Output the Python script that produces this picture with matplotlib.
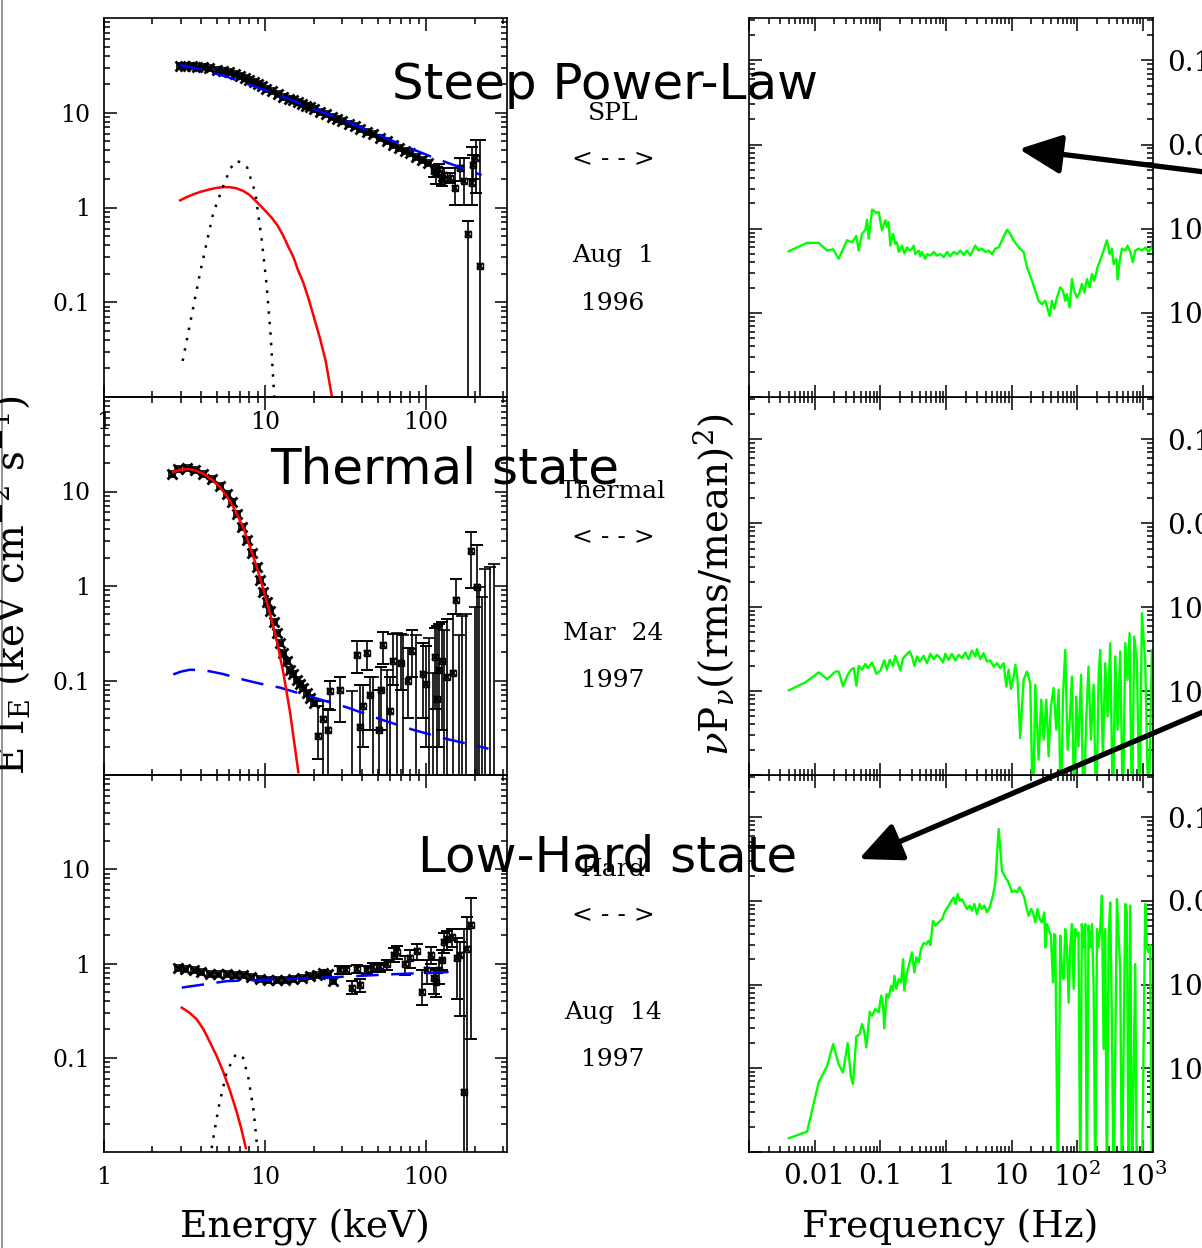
import numpy as np
import matplotlib
import matplotlib.pyplot as plt
from matplotlib.patches import FancyArrowPatch, ArrowStyle
from matplotlib.ticker import LogLocator, NullFormatter, FixedLocator, FixedFormatter

plt.rcParams['font.family'] = 'DejaVu Serif'
plt.rcParams['mathtext.fontset'] = 'dejavuserif'

# ---------------- energy spectra (keV, keV cm^-2 s^-1) ----------------
# Steep power-law state, Aug 1 1996
spl_E = [2.97, 3.2, 3.5, 3.8, 4.1, 4.5, 5.0, 5.5, 6.0, 6.5, 7.0, 7.5, 8.0, 8.5, 9.0, 9.6,
         10.2, 11, 12, 13, 14, 15, 16, 17, 18, 19, 20, 22, 24, 26, 28, 30, 33, 36, 39,
         43, 47, 52, 57, 62, 68, 74, 80, 87, 95, 103]
spl_F = [31, 31, 31, 30.7, 30.2, 29.5, 28.5, 27.8, 26.8, 25.5, 24.5, 23.5, 22.0, 21, 20, 19,
         18, 16.8, 15.8, 14.8, 14, 13.5, 13, 12.4, 11.9, 11.4, 11, 10.3, 9.6, 9.0, 8.5, 8.1,
         7.6, 7.2, 6.8, 6.3, 5.9, 5.4, 5.0, 4.6, 4.2, 3.95, 3.75, 3.4, 3.2, 2.95]
spl_E2 = [112, 116, 120, 125, 130, 140, 151, 163, 172, 182, 192, 196, 205, 216]
spl_F2 = [2.4, 2.3, 2.55, 1.9, 2.2, 2.05, 1.6, 2.6, 1.9, 0.52, 1.8, 2.8, 3.3, 0.24]
spl_lo2 = [2.1, 1.75, 2.2, 1.7, 1.9, 1.8, 1.07, 1.9, 1.07, 0.001, 1.07, 2.0, 1.43, 0.001]
spl_hi2 = [2.8, 2.7, 2.9, 2.1, 2.6, 2.3, 2.6, 3.3, 3.3, 0.72, 4.4, 3.6, 5.2, 5.2]
spl_pl_E = [2.97, 4, 5.8, 8, 12, 20, 30, 50, 80, 120, 221]
spl_pl_F = [32, 28.5, 24, 19.8, 15.5, 11, 8.5, 5.9, 4.2, 3.2, 2.2]
spl_bb_E = [2.97, 3.3, 3.6, 4.0, 4.5, 5.0, 5.5, 6.0, 6.6, 7.3, 8.0, 8.9, 10, 11, 12, 13, 14,
            15, 16, 17.3, 18.6, 20, 21.9, 23.8, 25.9]
spl_bb_F = [1.19, 1.30, 1.38, 1.47, 1.55, 1.61, 1.64, 1.64, 1.60, 1.50, 1.36, 1.14, 0.93,
            0.78, 0.64, 0.50, 0.38, 0.30, 0.22, 0.16, 0.11, 0.072, 0.042, 0.024, 0.0105]
spl_ln_E = [3.08, 3.95, 4.77, 5.5, 6.1, 6.7, 7.7, 8.7, 9.53, 10.2, 10.8, 11.4]
spl_ln_F = [0.024, 0.205, 0.88, 1.68, 2.6, 3.12, 2.72, 1.43, 0.46, 0.16, 0.048, 0.0103]

# Thermal state, Mar 24 1997
th_E = [2.63, 2.9, 3.26, 3.67, 4.14, 4.66, 5.25, 5.78, 6.2, 6.67, 7.16, 7.7, 8.25, 8.87,
        9.3, 9.77, 10.25, 10.7, 11.3, 11.8, 12.4, 13.0, 13.6, 14.3, 15.0, 15.7, 16.5,
        17.3, 18.1, 19.0, 20.0]
th_F = [15.4, 17.3, 17.8, 16.8, 15.4, 13.5, 11.4, 9.3, 7.7, 5.8, 4.21, 3.05, 2.21, 1.60,
        1.16, 0.87, 0.68, 0.54, 0.42, 0.32, 0.25, 0.195, 0.16, 0.13, 0.116, 0.102, 0.091,
        0.084, 0.074, 0.066, 0.058]
th_E2 = [21.4, 23, 24.7, 25.3, 29.2, 37.1, 38.9, 40.7, 42.7, 44.9, 50.7, 52.5, 54.3, 59.6,
         62.7, 69.5, 77.6, 81.5, 95.2, 99.3, 114, 117, 121, 126, 135, 146, 153, 190, 206]
th_F2 = [0.026, 0.039, 0.030, 0.077, 0.079, 0.188, 0.032, 0.054, 0.195, 0.071, 0.030, 0.08,
         0.24, 0.047, 0.16, 0.155, 0.10, 0.203, 0.116, 0.091, 0.177, 0.063, 0.13, 0.16,
         0.109, 0.12, 0.71, 2.35, 0.98]
th_lo2 = [0.0146, 0.001, 0.001, 0.049, 0.036, 0.12, 0.001, 0.02, 0.13, 0.03, 0.001, 0.03,
          0.15, 0.001, 0.09, 0.08, 0.04, 0.11, 0.04, 0.02, 0.05, 0.001, 0.02, 0.03, 0.001,
          0.001, 0.5, 0.95, 0.001]
th_hi2 = [0.054, 0.06, 0.05, 0.098, 0.11, 0.26, 0.09, 0.09, 0.26, 0.11, 0.08, 0.14, 0.33,
          0.11, 0.31, 0.31, 0.22, 0.34, 0.25, 0.23, 0.36, 0.38, 0.40, 0.42, 0.45, 0.50,
          1.2, 3.7, 2.7]
th_ul_E = [34.6, 47, 57, 66, 72, 86, 104, 110, 130, 160, 168, 177, 200, 214, 222, 231, 249, 263]
th_ul_F = [0.077, 0.11, 0.13, 0.32, 0.30, 0.30, 0.28, 0.12, 0.34, 0.30, 0.48, 0.5, 0.6,
           0.98, 0.77, 1.5, 1.6, 1.73]
th_pl_E = [2.69, 3.0, 3.42, 4.0, 4.55, 5.5, 6.5, 7.7, 9.5, 12.4, 20, 32.2, 51.8, 83.5, 135, 244]
th_pl_F = [0.116, 0.124, 0.13, 0.129, 0.125, 0.117, 0.108, 0.10, 0.092, 0.084, 0.066, 0.052,
           0.039, 0.030, 0.024, 0.019]
th_bb_E = [2.69, 2.95, 3.34, 3.7, 4.14, 4.7, 5.25, 5.8, 6.36, 7.3, 8.07, 8.87, 9.77, 10.7,
           11.8, 13.0, 14.3, 15.3, 16.1]
th_bb_F = [16.0, 17.0, 17.3, 16.7, 15.4, 13.3, 11.1, 8.9, 6.84, 4.21, 2.59, 1.60, 0.91, 0.52,
           0.27, 0.12, 0.046, 0.020, 0.0107]

# Low-hard state, Aug 14 1997
hd_E = [2.9, 3.2, 3.6, 4.0, 4.55, 5.1, 5.78, 6.5, 7.3, 8.2, 9.3, 10.5, 11.8, 13.3, 15, 17,
        19, 21, 23, 24.5, 26.6]
hd_F = [0.90, 0.88, 0.85, 0.81, 0.77, 0.78, 0.78, 0.76, 0.75, 0.72, 0.69, 0.67, 0.67, 0.67,
        0.69, 0.71, 0.73, 0.76, 0.785, 0.77, 0.66]
hd_E2 = [29.2, 32, 34.9, 37.3, 38.9, 42.7, 47, 51.8, 57, 62.9, 65.6, 74, 79.6, 87.7, 95, 101,
         107, 112, 116, 121, 125, 129, 135, 144, 155, 162, 172, 180, 189]
hd_F2 = [0.85, 0.85, 0.55, 0.88, 0.59, 0.86, 0.92, 0.92, 0.98, 1.24, 1.32, 0.98, 1.15, 1.35,
         0.50, 0.86, 1.24, 0.71, 0.64, 0.86, 1.1, 1.68, 1.82, 1.91, 1.15, 1.24, 0.043, 1.43, 2.57]
hd_lo2 = [0.78, 0.78, 0.47, 0.8, 0.50, 0.78, 0.82, 0.82, 0.86, 1.05, 1.12, 0.75, 0.9, 1.1,
          0.36, 0.6, 1.0, 0.47, 0.44, 0.6, 0.85, 1.3, 1.4, 1.5, 0.42, 0.28, 0.001, 0.001, 0.16]
hd_hi2 = [0.93, 0.93, 0.65, 0.96, 0.68, 0.95, 1.02, 1.02, 1.1, 1.45, 1.55, 1.2, 1.4, 1.6,
          0.86, 1.1, 1.5, 0.9, 0.85, 1.1, 1.4, 2.1, 2.2, 2.3, 1.85, 1.7, 2.3, 3.15, 5.0]
hd_pl_E = [3.04, 5.78, 11.8, 24, 62.9, 162]
hd_pl_F = [0.555, 0.65, 0.68, 0.71, 0.77, 0.82]
hd_bb_E = [3.04, 3.4, 3.76, 4.15, 4.55, 5.0, 5.5, 6.05, 6.65, 7.1, 7.6]
hd_bb_F = [0.34, 0.30, 0.257, 0.20, 0.146, 0.105, 0.071, 0.045, 0.027, 0.018, 0.011]
hd_ln_E = [4.66, 5.13, 5.78, 6.6, 7.3, 7.9, 8.5, 8.9]
hd_ln_F = [0.011, 0.029, 0.071, 0.11, 0.10, 0.06, 0.027, 0.012]

# ---------------- power density spectra (Hz, nu P_nu) ----------------
spl_f = [0.00403, 0.00766, 0.0115, 0.0155, 0.0191, 0.0232, 0.0311, 0.0371, 0.0431, 0.0469,
         0.0526, 0.0592, 0.0628, 0.0665, 0.0748, 0.0871, 0.0944, 0.106, 0.119, 0.126, 0.134,
         0.142, 0.156, 0.169, 0.179, 0.191, 0.214, 0.232, 0.255, 0.280, 0.303, 0.322, 0.341,
         0.384, 0.406, 0.431, 0.484, 0.514, 0.578, 0.649, 0.729, 0.820, 0.921, 1.04, 1.16,
         1.31, 1.47, 1.65, 1.86, 2.09, 2.35, 2.64, 2.79, 3.14, 3.53, 3.97, 4.46, 5.01, 5.63,
         6.34, 7.12, 8.48, 9.53, 10.7, 12.8, 15.2, 17.1, 20.4, 22.9, 25.7, 28.9, 32.5, 35.3,
         37.8, 41.0, 44.6, 48.9, 55.0, 60.4, 65.5, 69.5, 76.2, 82.8, 89.8, 98.6, 108, 117,
         128, 140, 154, 167, 181, 203, 223, 251, 282, 310, 336, 357, 392, 410, 440, 477, 537,
         582, 640, 702, 762, 855, 962, 1081, 1216, 1365, 1449]
spl_p = [5.4e-4, 6.8e-4, 6.8e-4, 5.5e-4, 5.7e-4, 4.4e-4, 7.3e-4, 6.9e-4, 8.2e-4, 5.5e-4,
         8.7e-4, 9.7e-4, 1.28e-3, 7.6e-4, 1.69e-3, 1.54e-3, 1.58e-3, 9.6e-4, 1.26e-3, 1.05e-3,
         1.20e-3, 6.3e-4, 8.7e-4, 6.6e-4, 6.9e-4, 5.3e-4, 6.3e-4, 5.1e-4, 6.0e-4, 5.5e-4,
         5.8e-4, 6.3e-4, 5.0e-4, 5.5e-4, 4.7e-4, 5.3e-4, 4.4e-4, 5.0e-4, 4.8e-4, 5.3e-4,
         4.8e-4, 5.0e-4, 4.6e-4, 5.3e-4, 4.7e-4, 5.3e-4, 5.0e-4, 5.5e-4, 4.9e-4, 5.5e-4,
         4.8e-4, 5.8e-4, 6.3e-4, 5.5e-4, 5.8e-4, 5.3e-4, 5.5e-4, 5.0e-4, 5.8e-4, 6.0e-4,
         7.3e-4, 9.7e-4, 8.7e-4, 7.3e-4, 6.0e-4, 5.3e-4, 3.5e-4, 2.4e-4, 1.83e-4, 1.39e-4,
         1.27e-4, 1.39e-4, 1.11e-4, 9.2e-5, 1.39e-4, 1.11e-4, 1.52e-4, 2.01e-4, 1.83e-4,
         1.39e-4, 1.67e-4, 1.16e-4, 2.52e-4, 1.83e-4, 1.52e-4, 1.75e-4, 2.20e-4, 1.75e-4,
         2.52e-4, 2.01e-4, 2.90e-4, 2.41e-4, 3.48e-4, 4.2e-4, 5.5e-4, 7.3e-4, 5.0e-4, 5.8e-4,
         3.8e-4, 4.4e-4, 2.5e-4, 4.0e-4, 5.8e-4, 5.5e-4, 6.3e-4, 5.3e-4, 4.0e-4, 5.5e-4,
         5.8e-4, 5.5e-4, 6.0e-4, 5.3e-4, 6.0e-4, 8.7e-4]

th_f = [0.00403, 0.00723, 0.0115, 0.0155, 0.0207, 0.0232, 0.0270, 0.0318, 0.0358, 0.0394,
        0.0431, 0.0469, 0.0526, 0.0592, 0.0643, 0.0748, 0.0871, 0.100, 0.115, 0.126, 0.139,
        0.156, 0.169, 0.184, 0.202, 0.222, 0.249, 0.280, 0.303, 0.330, 0.362, 0.397, 0.457,
        0.514, 0.578, 0.649, 0.729, 0.820, 0.900, 0.977, 1.10, 1.23, 1.39, 1.56, 1.75, 1.97,
        2.21, 2.49, 2.79, 2.96, 3.33, 3.74, 4.21, 4.73, 5.32, 5.97, 6.71, 7.55, 8.28, 8.99,
        9.75, 10.7, 11.4, 12.3, 13.5, 15.2, 17.1, 19.2, 21.1, 22.9, 25.7, 28.2, 30.7, 33.7,
        36.5, 39.6, 43.5, 47.8, 51.9, 56.3, 60.4, 65.5, 71.1, 76.2, 82.8, 89.8, 96.4, 104,
        114, 124, 137, 148, 161, 177, 194, 211, 223, 245, 266, 289, 317, 348, 378, 410, 450,
        494, 537, 582, 625, 678, 736, 807, 887, 962, 1081, 1216, 1365, 1449]
th_p = [1.02e-4, 1.27e-4, 1.67e-4, 1.39e-4, 1.71e-4, 1.71e-4, 1.14e-4, 1.56e-4, 1.80e-4,
        1.88e-4, 1.16e-4, 2.00e-4, 1.80e-4, 2.11e-4, 1.88e-4, 2.19e-4, 1.61e-4, 1.76e-4,
        2.32e-4, 1.80e-4, 2.36e-4, 2.00e-4, 2.63e-4, 2.19e-4, 1.76e-4, 2.47e-4, 2.71e-4,
        2.97e-4, 2.59e-4, 2.00e-4, 2.59e-4, 2.25e-4, 2.63e-4, 2.15e-4, 2.78e-4, 2.40e-4,
        2.71e-4, 2.47e-4, 2.19e-4, 2.78e-4, 2.36e-4, 2.78e-4, 2.32e-4, 2.71e-4, 2.47e-4,
        2.88e-4, 2.40e-4, 3.05e-4, 2.59e-4, 3.16e-4, 2.40e-4, 2.83e-4, 2.25e-4, 2.32e-4,
        1.96e-4, 2.15e-4, 1.88e-4, 2.15e-4, 1.14e-4, 1.80e-4, 1.06e-4, 1.49e-4, 2.06e-4,
        1.36e-4, 2.75e-5, 1.36e-4, 1.71e-4, 1.24e-4, 3e-6, 1.19e-4, 1.52e-5, 7.9e-5, 2.63e-5,
        7.9e-5, 1.67e-5, 6.6e-5, 1.09e-4, 3.47e-5, 1.04e-4, 3e-6, 8.6e-5, 3.10e-4, 2.0e-5,
        4.16e-5, 1.49e-4, 3e-6, 8.6e-5, 2.19e-5, 1.56e-4, 3e-6, 4.99e-5, 1.96e-4, 2.63e-5,
        1.19e-4, 3e-6, 1.56e-4, 3.10e-4, 1.67e-5, 2.15e-4, 4.99e-5, 3.73e-4, 3e-6, 2.59e-4,
        3.47e-5, 2.97e-4, 3e-6, 3.73e-4, 1.36e-4, 4.90e-4, 3e-6, 4.47e-4, 2.32e-4, 3e-6,
        8.5e-4, 2.15e-4, 3e-6, 3.10e-4, 5.47e-5]

hd_f = [0.00403, 0.00766, 0.0115, 0.0155, 0.0191, 0.0232, 0.0270, 0.0318, 0.0358, 0.0384,
        0.0431, 0.0485, 0.0526, 0.0571, 0.0612, 0.0689, 0.0748, 0.0839, 0.0944, 0.103, 0.110,
        0.115, 0.124, 0.134, 0.146, 0.156, 0.164, 0.175, 0.191, 0.207, 0.222, 0.232, 0.255,
        0.280, 0.303, 0.330, 0.353, 0.384, 0.416, 0.457, 0.502, 0.544, 0.578, 0.634, 0.689,
        0.773, 0.869, 0.977, 1.10, 1.19, 1.31, 1.39, 1.51, 1.61, 1.75, 1.90, 2.09, 2.29, 2.49,
        2.70, 2.96, 3.25, 3.53, 3.83, 4.21, 4.62, 5.19, 5.63, 5.97, 6.34, 6.71, 7.12, 8.00,
        8.69, 9.53, 10.1, 11.0, 12.0, 13.2, 14.4, 15.6, 16.7, 18.1, 19.7, 21.1, 22.9, 24.8,
        26.7, 28.9, 31.4, 32.5, 34.5, 37.8, 39.6, 42.6, 44.6, 46.1, 50.7, 55.0, 58.3, 61.8,
        65.5, 69.5, 73.6, 78.0, 82.8, 87.7, 92.9, 98.6, 104, 111, 117, 124, 132, 140, 148,
        157, 167, 177, 188, 199, 211, 223, 237, 251, 266, 282, 299, 317, 336, 357, 401, 425,
        450, 477, 537, 569, 603, 640, 678, 762, 807, 962, 1081, 1146, 1216, 1288, 1365, 1449]
hd_p = [1.46e-5, 1.75e-5, 6.8e-5, 1.07e-4, 1.95e-4, 1.12e-4, 8.9e-5, 1.99e-4, 7.8e-5,
        6.5e-5, 2.39e-4, 2.57e-4, 3.38e-4, 2.74e-4, 1.78e-4, 4.75e-4, 4.26e-4, 5.12e-4,
        4.67e-4, 7.4e-4, 5.6e-4, 3.00e-4, 7.7e-4, 7.0e-4, 9.7e-4, 8.5e-4, 1.28e-3, 8.9e-4,
        1.17e-3, 1.06e-3, 2.02e-3, 8.5e-4, 1.40e-3, 1.85e-3, 2.43e-3, 1.40e-3, 2.12e-3,
        1.85e-3, 2.67e-3, 3.14e-3, 3.06e-3, 3.35e-3, 2.97e-3, 5.8e-3, 5.07e-3, 5.55e-3,
        6.08e-3, 7.65e-3, 8.8e-3, 9.8e-3, 0.0110, 9.2e-3, 0.0121, 0.0101, 0.0105, 9.2e-3,
        8.0e-3, 8.8e-3, 7.65e-3, 9.2e-3, 6.98e-3, 9.2e-3, 8.0e-3, 8.8e-3, 7.3e-3, 8.4e-3,
        0.0116, 0.0167, 0.0348, 0.0724, 0.0418, 0.0230, 0.0191, 0.0175, 0.0146, 0.0127,
        0.0133, 0.0127, 0.0146, 0.0127, 0.0110, 8.4e-3, 6.67e-3, 8.0e-3, 7.3e-3, 5.55e-3,
        8.0e-3, 6.08e-3, 5.55e-3, 7.3e-3, 2.79e-3, 5.3e-3, 4.22e-3, 3.85e-3, 1.06e-3,
        4.03e-3, 3.85e-3, 3e-6, 3.85e-3, 1.40e-3, 1.17e-3, 4.62e-3, 2.79e-3, 6.1e-4,
        2.79e-3, 5.3e-3, 8.9e-4, 4.62e-3, 3.85e-3, 4.22e-3, 3e-6, 5.3e-3, 2.79e-3, 5.3e-3,
        3e-6, 5.07e-3, 2.79e-3, 5.3e-3, 9.7e-4, 3e-6, 4.62e-3, 2.79e-3, 4.62e-3, 0.0116,
        1.70e-4, 4.62e-3, 3e-6, 3.85e-3, 9.6e-3, 3.54e-4, 3e-6, 0.0105, 3.85e-3, 1.54e-3,
        3e-6, 9.2e-3, 7.3e-3, 3e-6, 8.8e-3, 3e-6, 1.76e-3, 3e-6, 3e-6, 9.2e-3, 2.79e-3,
        2.43e-3, 2.97e-3, 3e-6, 3.20e-3]

state_names = ['SPL', 'Thermal', 'Hard']
state_dates = [('Aug  1', '1996'), ('Mar  24', '1997'), ('Aug  14', '1997')]
big_labels = ['Steep Power-Law', 'Thermal state', 'Low-Hard state']

W, H = 1202, 1248
fig = plt.figure(figsize=(W / 100, H / 100), dpi=100)


def frac(x0, y0, x1, y1):
    return [x0 / W, 1 - y1 / H, (x1 - x0) / W, (y1 - y0) / H]


rows = [(775, 1152), (397, 775), (18, 397)]   # bottom, middle, top
left_axes, right_axes = [], []
for (y0, y1) in rows:
    left_axes.append(fig.add_axes(frac(104, y0, 507, y1)))
    right_axes.append(fig.add_axes(frac(749, y0, 1153, y1)))
left_axes = left_axes[::-1]   # top, middle, bottom
right_axes = right_axes[::-1]


def style(ax, size):
    ax.set_xscale('log')
    ax.set_yscale('log')
    for s in ax.spines.values():
        s.set_linewidth(1.2)
    ax.tick_params(which='both', direction='in', top=True, right=True, width=1.1,
                   labelsize=size)
    ax.tick_params(which='major', length=9, pad=10)
    ax.tick_params(which='minor', length=4.5)
    ax.yaxis.set_minor_locator(LogLocator(base=10, subs=np.arange(2, 10), numticks=20))
    ax.xaxis.set_minor_locator(LogLocator(base=10, subs=np.arange(2, 10), numticks=20))
    ax.xaxis.set_minor_formatter(NullFormatter())
    ax.yaxis.set_minor_formatter(NullFormatter())


for i, ax in enumerate(left_axes):
    style(ax, 17)
    ax.set_xlim(1, 318)
    ax.set_ylim(0.01, 100)
    ax.xaxis.set_major_locator(FixedLocator([1, 10, 100]))
    ax.xaxis.set_major_formatter(FixedFormatter(['1', '10', '100']))
    ax.yaxis.set_major_locator(FixedLocator([0.1, 1, 10]))
    ax.yaxis.set_major_formatter(FixedFormatter(['0.1', '1', '10']))
    if i == 1:
        ax.tick_params(labelbottom=False)
    ax.set_facecolor('none')

for i, ax in enumerate(right_axes):
    style(ax, 20)
    ax.set_xlim(0.001, 1420)
    ax.set_ylim(1e-5, 0.32)
    ax.xaxis.set_major_locator(FixedLocator([0.001, 0.01, 0.1, 1, 10, 100, 1000]))
    ax.xaxis.set_major_formatter(FixedFormatter(['', '0.01', '0.1', '1', '10',
                                                 '$10^2$', '$10^3$']))
    ax.yaxis.set_major_locator(FixedLocator([1e-5, 1e-4, 1e-3, 0.01, 0.1]))
    ax.yaxis.set_major_formatter(FixedFormatter(['', '$10^{-4}$', '$10^{-3}$', '0.01', '0.1']))
    ax.tick_params(labelleft=False, labelright=True)
    ax.tick_params(axis='y', which='major', pad=10)
    ax.tick_params(axis='x', which='major', pad=8)
    if i < 2:
        ax.tick_params(labelbottom=False)


def draw_data(ax, E, F, E2, F2, lo2, hi2):
    ax.plot(E, F, 'x', color='k', ms=6.5, mew=2.0, zorder=3)
    ax.plot(E, F, 's', color='k', mfc='none', ms=4.5, mew=1.2, zorder=3)
    E2, F2, lo2, hi2 = map(np.array, (E2, F2, lo2, hi2))
    ax.errorbar(E2, F2, yerr=[F2 - lo2, hi2 - F2], fmt='x', color='k', ms=5, mew=1.4,
                elinewidth=1.2, capsize=4, capthick=1.2, zorder=3)
    ax.plot(E2, F2, 's', color='k', mfc='none', ms=4, mew=1.0, zorder=3)


red = dict(color='#ff0000', lw=1.8, zorder=4)
blue = dict(color='#0000ff', lw=1.8, ls=(0, (9, 5)), zorder=4)
dots = dict(color='k', lw=1.8, ls=(0, (1, 3.2)), zorder=4)

ax = left_axes[0]
draw_data(ax, spl_E, spl_F, spl_E2, spl_F2, spl_lo2, spl_hi2)
ax.plot(spl_pl_E, spl_pl_F, **blue)
ax.plot(spl_bb_E, spl_bb_F, **red)
ax.plot(spl_ln_E, spl_ln_F, **dots)

ax = left_axes[1]
draw_data(ax, th_E, th_F, th_E2, th_F2, th_lo2, th_hi2)
ax.vlines(th_ul_E, 0.001, th_ul_F, color='k', lw=1.2, zorder=3)
ax.plot(th_ul_E, th_ul_F, '_', color='k', ms=8, mew=1.2, zorder=3)
ax.plot(th_pl_E, th_pl_F, **blue)
ax.plot(th_bb_E, th_bb_F, **red)

ax = left_axes[2]
draw_data(ax, hd_E, hd_F, hd_E2, hd_F2, hd_lo2, hd_hi2)
ax.plot(hd_pl_E, hd_pl_F, **blue)
ax.plot(hd_bb_E, hd_bb_F, **red)
ax.plot(hd_ln_E, hd_ln_F, **dots)

for ax, f, p in zip(right_axes, [spl_f, th_f, hd_f], [spl_p, th_p, hd_p]):
    ax.plot(f, p, color='#00ff00', lw=1.7)

# labels
fig.text(305 / W, 1 - 1228 / H, 'Energy (keV)', ha='center', va='center', fontsize=27)
fig.text(950 / W, 1 - 1228 / H, 'Frequency (Hz)', ha='center', va='center', fontsize=27)
fig.text(10 / W, 1 - 585 / H, r'E I$_{\rm E}$ (keV cm$^{-2}$ s$^{-1}$)', rotation=90,
         ha='center', va='center', fontsize=28)
fig.text(714 / W, 1 - 585 / H, r'$\nu$P$_\nu$((rms/mean)$^2$)', rotation=90,
         ha='center', va='center', fontsize=28)

row_y = [(113, 160, 256, 303), (491, 538, 634, 681), (869, 916, 1012, 1059)]
for name, (d1, d2), ys in zip(state_names, state_dates, row_y):
    for txt, y in zip([name, '< - - >', d1, d2], ys):
        fig.text(613 / W, 1 - y / H, txt, ha='center', va='center', fontsize=18)

big_pos = [(605, 85), (445, 470), (608, 857)]
for txt, (x, y) in zip(big_labels, big_pos):
    fig.text(x / W, 1 - y / H, txt, ha='center', va='center', fontsize=36,
             family='DejaVu Sans', zorder=10)

# arrows
for tail, tip in [((1245, 177), (1019, 149)), ((1245, 694), (859, 859))]:
    arr = FancyArrowPatch((tail[0] / W, 1 - tail[1] / H), (tip[0] / W, 1 - tip[1] / H),
                          transform=fig.transFigure,
                          arrowstyle=ArrowStyle('-|>', head_length=2.6, head_width=1.2),
                          mutation_scale=10, lw=3.8, color='k', shrinkA=0, shrinkB=0,
                          zorder=12)
    fig.add_artist(arr)

fig.add_artist(plt.Line2D([1.5 / W, 1.5 / W], [0, 1], transform=fig.transFigure,
                          color='0.5', lw=1.2))

fig.savefig('out.png', dpi=100)
